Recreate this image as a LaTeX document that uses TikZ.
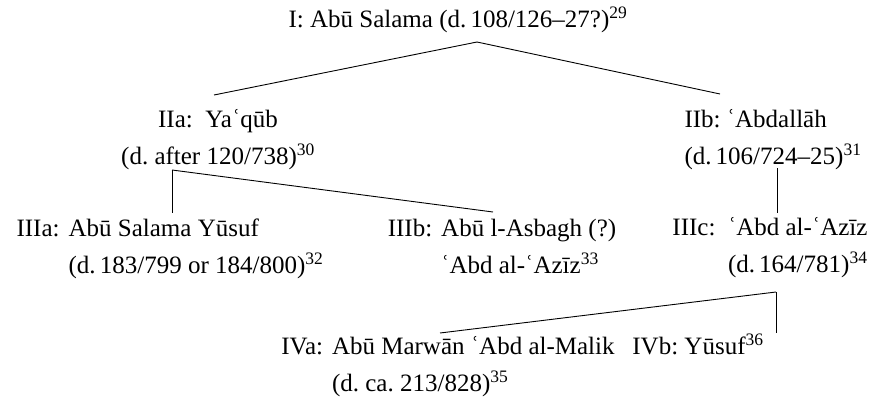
\documentclass[tikz,border=0pt]{standalone}
\usepackage{fontspec}
\setmainfont{Liberation Serif}
\usetikzlibrary{positioning}
\frenchspacing

\tikzset{
  every node/.style={font=\fontsize{25}{37}\selectfont, inner sep=3pt},
  line/.style={draw, line width=0.9pt},
}
\newcommand{\hangname}[3]{\begin{tabular}{@{}l@{\hspace{9pt}}l@{}}#1 & #2\\ & #3\end{tabular}}

\begin{document}
\begin{tikzpicture}[x=1pt, y=-1pt, node distance=100pt, on grid]
  \useasboundingbox (0,0) rectangle (877,404);

  \node (I) at (458,20)                           {I: Abū Salama (d.\,108/126–27?)\textsuperscript{29}};
  \node (IIa)  [below left=120pt and 240pt of I]  [align=center] {IIa:\ \ Yaʿqūb\\(d. after 120/738)\textsuperscript{30}};
  \node (IIb)  [below right=120pt and 315pt of I] [align=left]   {IIb: ʿAbdallāh\\(d.\,106/724–25)\textsuperscript{31}};
  \node (IIIa) [below left=108pt and 48pt of IIa]  {\hangname{IIIa:}{Abū Salama Yūsuf}{(d.\,183/799 or 184/800)\textsuperscript{32}}};
  \node (IIIb) [below right=108pt and 284pt of IIa] {\hangname{IIIb:}{Abū l-Asbagh (?)}{ʿAbd al-ʿAzīz\textsuperscript{33}}};
  \node (IIIc) [below left=108pt and 3pt of IIb]  [align=right]  {IIIc:\ \ ʿAbd al-ʿAzīz\\(d.\,164/781)\textsuperscript{34}};
  \node (IVa)  [below left=118pt and 322pt of IIIc] {\hangname{IVa:}{Abū Marwān ʿAbd al-Malik}{(d. ca. 213/828)\textsuperscript{35}}};
  \node (IVb)  [below left=96pt and 72pt of IIIc] {IVb: Yūsuf\textsuperscript{36}};

  % branch points and line ends
  \coordinate (top) at ([shift={(19,22)}]I.center);
  \coordinate (ja)  at ([shift={(-46,30)}]IIa.center);
  \coordinate (jb)  at ([shift={(4,28)}]IIb.center);
  \coordinate (jc)  at ([shift={(6,44)}]IIIc.center);
  \coordinate (ea)  at ([shift={(0,-35)}]IIIa.center);
  \coordinate (ec)  at ([shift={(0,-35)}]IIIc.center);
  \coordinate (ed)  at ([shift={(0,-11)}]IVb.center);

  \path[line]
    (top) edge ([shift={(-4,-45)}]IIa.center)
    (top) edge ([shift={(-53,-46)}]IIb.center)
    (ja)  edge (ja |- ea)
    (ja)  edge ([shift={(-9,-36)}]IIIb.center)
    (jb)  edge (jb |- ec)
    (jc)  edge (jc |- ed)
    (jc)  edge ([shift={(-8,-33)}]IVa.center);
\end{tikzpicture}
\end{document}
